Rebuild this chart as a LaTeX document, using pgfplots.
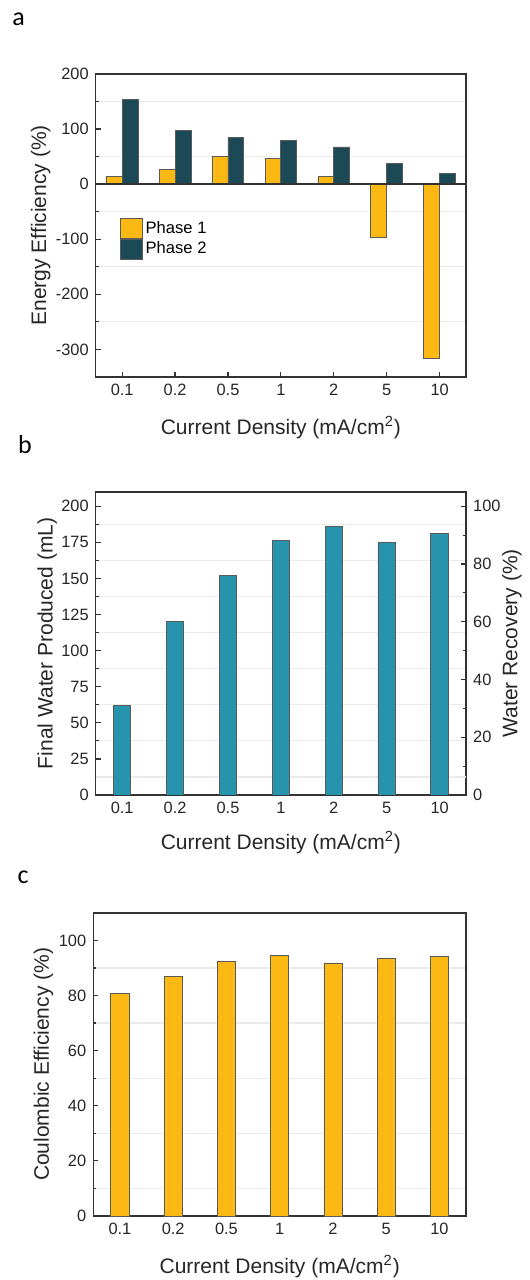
\documentclass[border=0pt]{standalone}
\usepackage{fontspec}
\setmainfont{Liberation Sans}
\newfontfamily\panelfont{Carlito}
\usepackage{pgfplots}
\pgfplotsset{compat=1.18}
\definecolor{yel}{HTML}{FDB913}
\definecolor{dteal}{HTML}{1B4956}
\definecolor{teal2}{HTML}{2893AD}
\definecolor{gridc}{HTML}{EBEBEB}
\definecolor{axc}{HTML}{333333}
\definecolor{edgec}{HTML}{5A5A5A}
\pgfplotsset{
 common/.style={
  scale only axis, width=185.2pt, height=151.6pt,
  axis line style={draw=axc, line width=0.75pt},
  xmin=-0.5, xmax=6.5, xtick={0,...,6}, xticklabels={0.1,0.2,0.5,1,2,5,10},
  tick align=inside, xtick pos=bottom, ytick pos=left,
  major tick length=2.5pt, minor tick length=1.5pt,
  every tick/.append style={axc, line width=0.6pt},
  ymajorgrids=false, yminorgrids=true, minor grid style={gridc, line width=0.6pt},
  tick label style={font=\fontsize{8.2}{9}\selectfont, text=black!85},
  label style={font=\fontsize{10.5}{12}\selectfont, text=black!85},
  /pgf/number format/assume math mode=true,
  xlabel={Current Density (mA/cm\textsuperscript{2})},
  x label style={at={(axis description cs:0.5,-0.168)}, anchor=center},
 }
}
\begin{document}
\begin{tikzpicture}
\path[use as bounding box] (0,0) rectangle (265pt,640pt);
% panel letters
\node[font=\panelfont\fontsize{13}{14}\selectfont, anchor=center] at (9.25pt,630.25pt) {a};
\node[font=\panelfont\fontsize{13}{14}\selectfont, anchor=center] at (12.5pt,417.5pt) {b};
\node[font=\panelfont\fontsize{13}{14}\selectfont, anchor=center] at (11.5pt,201.5pt) {c};

% ---------- panel a ----------
\begin{axis}[common, at={(47.85pt,451.5pt)}, anchor=south west,
  ymin=-350, ymax=200, ytick={-300,-200,...,200},
  minor ytick={-250,-150,-50,50,150},
  ylabel={Energy Efficiency (\%)},
  y label style={at={(axis description cs:-0.1485,0.5)}, anchor=center},
  legend style={draw=none, fill=none, at={(0.0656,0.525)}, anchor=north west,
    inner sep=0pt, row sep=0pt, font=\fontsize{8.3}{9}\selectfont,
    nodes={inner sep=1.2pt}},
  legend cell align=left,
  legend image code/.code={\draw[#1] (0pt,-5pt) rectangle (11pt,5pt);},
  ]
\addplot[ybar, bar width=0.3, bar shift=-0.15, fill=yel, draw=edgec, line width=0.4pt] coordinates
 {(0,13.5) (1,26) (2,49.5) (3,47) (4,14) (5,-96) (6,-317)};
\addlegendentry{Phase 1}
\addplot[ybar, bar width=0.3, bar shift=0.15, fill=dteal, draw=edgec, line width=0.4pt] coordinates
 {(0,153.5) (1,96.6) (2,84.4) (3,78.3) (4,67.3) (5,38) (6,20)};
\addlegendentry{Phase 2}
\draw[axc, line width=0.7pt] (axis cs:-0.5,0) -- (axis cs:6.5,0);
\end{axis}

% ---------- panel b (right axis first) ----------
\begin{axis}[scale only axis, width=185.2pt, height=151.6pt,
  at={(47.85pt,242.5pt)}, anchor=south west,
  xmin=-0.5, xmax=6.5, ymin=0, ymax=105,
  hide x axis, axis y line*=right,
  ymajorgrids=false, yminorgrids=false, xmajorgrids=false,
  axis line style={draw=axc, line width=0.75pt},
  ytick={0,20,...,100}, minor ytick={10,30,50,70,90},
  tick align=inside, major tick length=2.5pt, minor tick length=1.5pt,
  every tick/.append style={axc, line width=0.6pt},
  tick label style={font=\fontsize{8.2}{9}\selectfont, text=black!85},
  label style={font=\fontsize{10.5}{12}\selectfont, text=black!85},
  /pgf/number format/assume math mode=true,
  ylabel={Water Recovery (\%)},
  y label style={at={(axis description cs:1.124,0.5)}, anchor=center},
  ]
\end{axis}
\begin{axis}[common, at={(47.85pt,242.5pt)}, anchor=south west,
  ymin=0, ymax=210, ytick={0,25,...,200},
  minor ytick={37.5,62.5,87.5,112.5,137.5,162.5,187.5},
  ylabel={Final Water Produced (mL)},
  y label style={at={(axis description cs:-0.131,0.5)}, anchor=center},
  x label style={at={(axis description cs:0.5,-0.158)}, anchor=center},
  ]
\draw[gridc, line width=0.6pt] (axis cs:-0.5,12.5) -- (axis cs:6.5,12.5);
\addplot[ybar, bar width=0.33, bar shift=0, fill=teal2, draw=edgec, line width=0.4pt] coordinates
 {(0,62) (1,120) (2,152) (3,176) (4,186) (5,175) (6,181)};
\end{axis}

% ---------- panel c ----------
\begin{axis}[common, width=186.4pt, at={(46.65pt,32pt)}, anchor=south west,
  ymin=0, ymax=110, ytick={0,20,...,100},
  minor ytick={10,30,50,70,90},
  ylabel={Coulombic Efficiency (\%)},
  y label style={at={(axis description cs:-0.134,0.5)}, anchor=center},
  ]
\addplot[ybar, bar width=0.34, bar shift=0, fill=yel, draw=edgec, line width=0.4pt] coordinates
 {(0,80.7) (1,87) (2,92.4) (3,94.6) (4,91.8) (5,93.6) (6,94.2)};
\end{axis}
\end{tikzpicture}
\end{document}
